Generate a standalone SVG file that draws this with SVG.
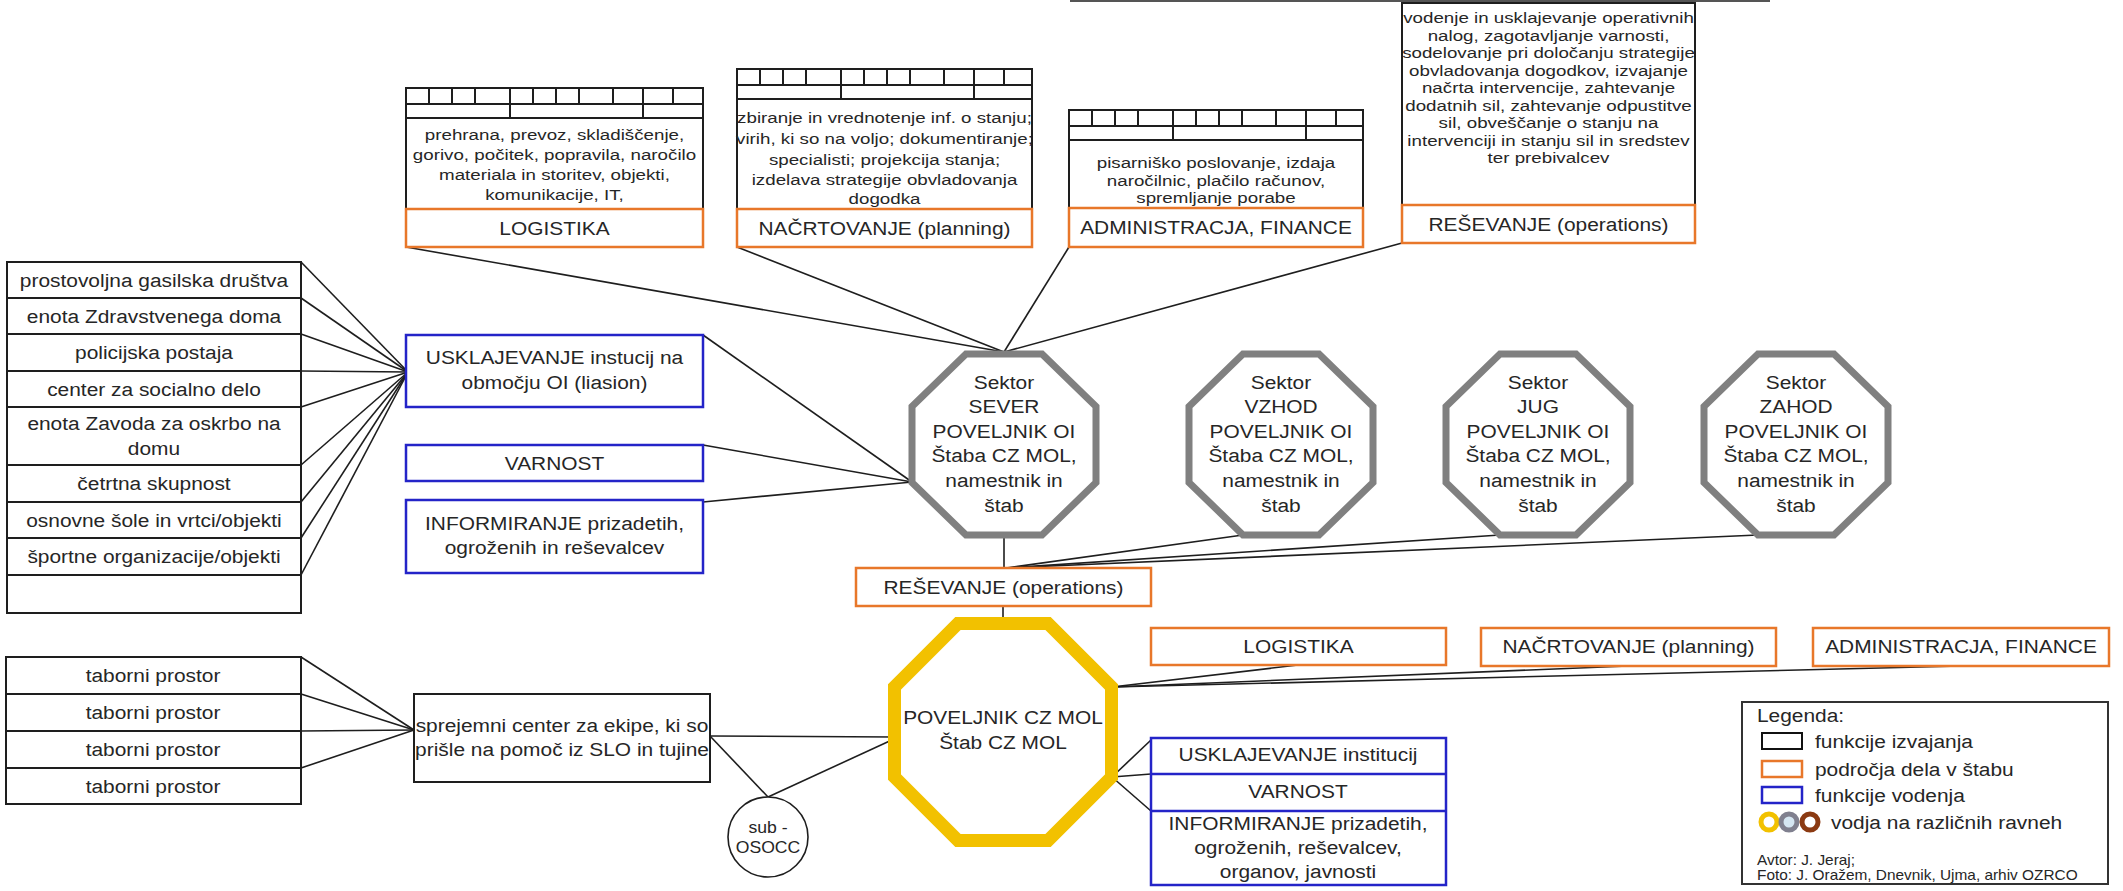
<svg xmlns="http://www.w3.org/2000/svg" width="2123" height="891" viewBox="0 0 2123 891">
<defs>
<style>
text{font-family:"Liberation Sans",Arial,sans-serif;fill:#262626;}
.t{font-size:19px;text-anchor:middle;}
.d{font-size:15px;text-anchor:middle;}
.s{font-size:19px;text-anchor:start;}
.f{font-size:14px;text-anchor:start;}
.bk{fill:#fff;stroke:#1e1e1e;stroke-width:2;}
.or{fill:#fff;stroke:#E8772A;stroke-width:2.5;}
.bl{fill:#fff;stroke:#2424C8;stroke-width:2.5;}
.rl{fill:none;stroke:#1e1e1e;stroke-width:2;}
.sep{stroke:#1e1e1e;stroke-width:2;}
.sepb{stroke:#2424C8;stroke-width:2.5;}
.oct{fill:#fff;stroke:#808080;stroke-width:7;stroke-linejoin:miter;}
.cn line{stroke:#1e1e1e;stroke-width:1.6;}
</style>
<path id="ruler" class="rl" d="M23 0V16M46 0V16M69 0V16M104 0V30M127 0V16M150 0V16M173 0V16M207 0V16M237 0V30M267 0V16"/>
<path id="sector" class="oct" d="M-38 354H38L92 406.5V482.5L38 535H-38L-92 482.5V406.5Z"/>
</defs>
<rect width="2123" height="891" fill="#fff"/>

<g id="clipped-top"><line x1="1070" y1="1" x2="1770" y2="1" stroke="#555" stroke-width="2"/></g>

<g id="connectors" class="cn">
<line x1="301" y1="262" x2="408" y2="372"/>
<line x1="301" y1="298" x2="408" y2="372"/>
<line x1="301" y1="334" x2="408" y2="372"/>
<line x1="301" y1="371" x2="408" y2="372"/>
<line x1="301" y1="407" x2="408" y2="372"/>
<line x1="301" y1="465" x2="408" y2="372"/>
<line x1="301" y1="502" x2="408" y2="372"/>
<line x1="301" y1="538" x2="408" y2="372"/>
<line x1="301" y1="575" x2="408" y2="372"/>
<line x1="703" y1="335" x2="912" y2="482"/>
<line x1="703" y1="445" x2="912" y2="482"/>
<line x1="703" y1="502" x2="912" y2="482"/>
<line x1="406" y1="247" x2="1004" y2="352"/>
<line x1="737" y1="247" x2="1004" y2="352"/>
<line x1="1069" y1="247" x2="1004" y2="352"/>
<line x1="1402" y1="243" x2="1004" y2="352"/>
<line x1="1004" y1="535" x2="1004" y2="568"/>
<line x1="1243" y1="535" x2="1006" y2="568"/>
<line x1="1500" y1="535" x2="1006" y2="568"/>
<line x1="1758" y1="535" x2="1006" y2="568"/>
<line x1="1003" y1="606" x2="1003" y2="620"/>
<line x1="301" y1="657" x2="414" y2="730"/>
<line x1="301" y1="694" x2="414" y2="730"/>
<line x1="301" y1="731" x2="414" y2="730"/>
<line x1="301" y1="768" x2="414" y2="730"/>
<line x1="710" y1="736" x2="894" y2="737"/>
<line x1="710" y1="736" x2="768" y2="797"/>
<line x1="768" y1="797" x2="894" y2="739"/>
<line x1="1298" y1="665" x2="1112" y2="687"/>
<line x1="1628" y1="666" x2="1112" y2="687"/>
<line x1="1961" y1="666" x2="1112" y2="687"/>
<line x1="1112" y1="777" x2="1151" y2="740"/>
<line x1="1112" y1="777" x2="1151" y2="774"/>
<line x1="1112" y1="777" x2="1151" y2="811"/>
</g>

<g id="logistika-top">
<rect class="bk" x="406" y="88" width="297" height="121"/>
<use href="#ruler" transform="translate(406 88)"/>
<path class="rl" d="M406 104H703M406 118H703"/>
<text class="d" transform="translate(554.5 0) scale(1.25 1)"><tspan x="0" y="140">prehrana, prevoz, skladiščenje,</tspan><tspan x="0" y="160">gorivo, počitek, popravila, naročilo</tspan><tspan x="0" y="180">materiala in storitev, objekti,</tspan><tspan x="0" y="200">komunikacije, IT,</tspan></text>
<rect class="or" x="406" y="209" width="297" height="38"/>
<text class="t" transform="translate(554.5 234.7) scale(1.1 1)">LOGISTIKA</text>
</g>

<g id="nacrtovanje-top">
<rect class="bk" x="737" y="69" width="295" height="140"/>
<use href="#ruler" transform="translate(737 69)"/>
<path class="rl" d="M737 85H1032M737 99H1032"/>
<text class="d" transform="translate(884.5 0) scale(1.25 1)"><tspan x="0" y="123">zbiranje in vrednotenje inf. o stanju;</tspan><tspan x="0" y="144">virih, ki so na voljo; dokumentiranje;</tspan><tspan x="0" y="165">specialisti; projekcija stanja;</tspan><tspan x="0" y="185">izdelava strategije obvladovanja</tspan><tspan x="0" y="204">dogodka</tspan></text>
<rect class="or" x="737" y="209" width="295" height="38"/>
<text class="t" transform="translate(884.5 234.7) scale(1.1 1)">NAČRTOVANJE (planning)</text>
</g>

<g id="administracija-top">
<rect class="bk" x="1069" y="110" width="294" height="98"/>
<use href="#ruler" transform="translate(1069 110)"/>
<path class="rl" d="M1069 126H1363M1069 140H1363"/>
<text class="d" transform="translate(1216 0) scale(1.25 1)"><tspan x="0" y="168">pisarniško poslovanje, izdaja</tspan><tspan x="0" y="186">naročilnic, plačilo računov,</tspan><tspan x="0" y="203">spremljanje porabe</tspan></text>
<rect class="or" x="1069" y="208" width="294" height="39"/>
<text class="t" transform="translate(1216 234.2) scale(1.1 1)">ADMINISTRACJA, FINANCE</text>
</g>

<g id="resevanje-top">
<rect class="bk" x="1402" y="3" width="293" height="202"/>
<text class="d" transform="translate(1548.5 0) scale(1.25 1)"><tspan x="0" y="23">vodenje in usklajevanje operativnih</tspan><tspan x="0" y="41">nalog, zagotavljanje varnosti,</tspan><tspan x="0" y="58">sodelovanje pri določanju strategije</tspan><tspan x="0" y="76">obvladovanja dogodkov, izvajanje</tspan><tspan x="0" y="93">načrta intervencije, zahtevanje</tspan><tspan x="0" y="111">dodatnih sil, zahtevanje odpustitve</tspan><tspan x="0" y="128">sil, obveščanje o stanju na</tspan><tspan x="0" y="146">intervenciji in stanju sil in sredstev</tspan><tspan x="0" y="163">ter prebivalcev</tspan></text>
<rect class="or" x="1402" y="205" width="293" height="38"/>
<text class="t" transform="translate(1548.5 230.7) scale(1.1 1)">REŠEVANJE (operations)</text>
</g>

<g id="institutions-list">
<rect class="bk" x="7" y="262" width="294" height="351"/>
<line class="sep" x1="7" y1="298" x2="301" y2="298"/>
<line class="sep" x1="7" y1="334" x2="301" y2="334"/>
<line class="sep" x1="7" y1="371" x2="301" y2="371"/>
<line class="sep" x1="7" y1="407" x2="301" y2="407"/>
<line class="sep" x1="7" y1="465" x2="301" y2="465"/>
<line class="sep" x1="7" y1="502" x2="301" y2="502"/>
<line class="sep" x1="7" y1="538" x2="301" y2="538"/>
<line class="sep" x1="7" y1="575" x2="301" y2="575"/>
<text class="t" transform="translate(154 286.7) scale(1.1 1)">prostovoljna gasilska društva</text>
<text class="t" transform="translate(154 322.7) scale(1.1 1)">enota Zdravstvenega doma</text>
<text class="t" transform="translate(154 359.2) scale(1.1 1)">policijska postaja</text>
<text class="t" transform="translate(154 395.7) scale(1.1 1)">center za socialno delo</text>
<text class="t" transform="translate(154 0) scale(1.1 1)"><tspan x="0" y="429.7">enota Zavoda za oskrbo na</tspan><tspan x="0" y="454.7">domu</tspan></text>
<text class="t" transform="translate(154 490.2) scale(1.1 1)">četrtna skupnost</text>
<text class="t" transform="translate(154 526.7) scale(1.1 1)">osnovne šole in vrtci/objekti</text>
<text class="t" transform="translate(154 563.2) scale(1.1 1)">športne organizacije/objekti</text>
</g>

<g id="usklajevanje-oi">
<rect class="bl" x="406" y="335" width="297" height="72"/>
<text class="t" transform="translate(554.5 0) scale(1.1 1)"><tspan x="0" y="363.7">USKLAJEVANJE instucij na</tspan><tspan x="0" y="388.7">območju OI (liasion)</tspan></text>
</g>
<g id="varnost-oi">
<rect class="bl" x="406" y="445" width="297" height="36"/>
<text class="t" transform="translate(554.5 469.7) scale(1.1 1)">VARNOST</text>
</g>
<g id="informiranje-oi">
<rect class="bl" x="406" y="500" width="297" height="73"/>
<text class="t" transform="translate(554.5 0) scale(1.1 1)"><tspan x="0" y="529.7">INFORMIRANJE prizadetih,</tspan><tspan x="0" y="553.7">ogroženih in reševalcev</tspan></text>
</g>

<g id="sektor-sever">
<use href="#sector" transform="translate(1004 0)"/>
<text class="t" transform="translate(1004 0) scale(1.1 1)"><tspan x="0" y="388.7">Sektor</tspan><tspan x="0" y="413.3">SEVER</tspan><tspan x="0" y="437.9">POVELJNIK OI</tspan><tspan x="0" y="462.5">Štaba CZ MOL,</tspan><tspan x="0" y="487.1">namestnik in</tspan><tspan x="0" y="511.7">štab</tspan></text>
</g>
<g id="sektor-vzhod">
<use href="#sector" transform="translate(1281 0)"/>
<text class="t" transform="translate(1281 0) scale(1.1 1)"><tspan x="0" y="388.7">Sektor</tspan><tspan x="0" y="413.3">VZHOD</tspan><tspan x="0" y="437.9">POVELJNIK OI</tspan><tspan x="0" y="462.5">Štaba CZ MOL,</tspan><tspan x="0" y="487.1">namestnik in</tspan><tspan x="0" y="511.7">štab</tspan></text>
</g>
<g id="sektor-jug">
<use href="#sector" transform="translate(1538 0)"/>
<text class="t" transform="translate(1538 0) scale(1.1 1)"><tspan x="0" y="388.7">Sektor</tspan><tspan x="0" y="413.3">JUG</tspan><tspan x="0" y="437.9">POVELJNIK OI</tspan><tspan x="0" y="462.5">Štaba CZ MOL,</tspan><tspan x="0" y="487.1">namestnik in</tspan><tspan x="0" y="511.7">štab</tspan></text>
</g>
<g id="sektor-zahod">
<use href="#sector" transform="translate(1796 0)"/>
<text class="t" transform="translate(1796 0) scale(1.1 1)"><tspan x="0" y="388.7">Sektor</tspan><tspan x="0" y="413.3">ZAHOD</tspan><tspan x="0" y="437.9">POVELJNIK OI</tspan><tspan x="0" y="462.5">Štaba CZ MOL,</tspan><tspan x="0" y="487.1">namestnik in</tspan><tspan x="0" y="511.7">štab</tspan></text>
</g>

<g id="resevanje-mid">
<rect class="or" x="856" y="568" width="295" height="38"/>
<text class="t" transform="translate(1003.5 593.7) scale(1.1 1)">REŠEVANJE (operations)</text>
</g>

<g id="poveljnik-cz-mol">
<path d="M958 623.5H1048L1111.5 687V777L1048 840.5H958L894.5 777V687Z" fill="#fff" stroke="#F2C100" stroke-width="13"/>
<text class="t" transform="translate(1003 0) scale(1.1 1)"><tspan x="0" y="723.7">POVELJNIK CZ MOL</tspan><tspan x="0" y="748.7">Štab CZ MOL</tspan></text>
</g>

<g id="taborni-list">
<rect class="bk" x="6" y="657" width="295" height="147"/>
<line class="sep" x1="6" y1="694" x2="301" y2="694"/>
<line class="sep" x1="6" y1="731" x2="301" y2="731"/>
<line class="sep" x1="6" y1="768" x2="301" y2="768"/>
<text class="t" transform="translate(153 682) scale(1.1 1)">taborni prostor</text>
<text class="t" transform="translate(153 719) scale(1.1 1)">taborni prostor</text>
<text class="t" transform="translate(153 756) scale(1.1 1)">taborni prostor</text>
<text class="t" transform="translate(153 792.5) scale(1.1 1)">taborni prostor</text>
</g>

<g id="sprejemni-center">
<rect class="bk" x="414" y="694" width="296" height="88"/>
<text class="t" transform="translate(562 0) scale(1.1 1)"><tspan x="0" y="731.7">sprejemni center za ekipe, ki so</tspan><tspan x="0" y="755.7">prišle na pomoč iz SLO in tujine</tspan></text>
</g>

<g id="sub-osocc">
<circle cx="768" cy="837" r="40" fill="#fff" stroke="#1e1e1e" stroke-width="1.6"/>
<text class="t" style="font-size:16px" transform="translate(768 0) scale(1.1 1)"><tspan x="0" y="832.6">sub -</tspan><tspan x="0" y="852.6">OSOCC</tspan></text>
</g>

<g id="logistika-bottom">
<rect class="or" x="1151" y="628" width="295" height="37"/>
<text class="t" transform="translate(1298.5 652.7) scale(1.1 1)">LOGISTIKA</text>
</g>
<g id="nacrtovanje-bottom">
<rect class="or" x="1481" y="628" width="295" height="38"/>
<text class="t" transform="translate(1628.5 652.7) scale(1.1 1)">NAČRTOVANJE (planning)</text>
</g>
<g id="administracija-bottom">
<rect class="or" x="1813" y="628" width="296" height="38"/>
<text class="t" transform="translate(1961 652.7) scale(1.1 1)">ADMINISTRACJA, FINANCE</text>
</g>

<g id="vodenje-bottom">
<rect class="bl" x="1151" y="738" width="295" height="147"/>
<line class="sepb" x1="1151" y1="774" x2="1446" y2="774"/>
<line class="sepb" x1="1151" y1="811" x2="1446" y2="811"/>
<text class="t" transform="translate(1298 760.7) scale(1.1 1)">USKLAJEVANJE institucij</text>
<text class="t" transform="translate(1298 797.7) scale(1.1 1)">VARNOST</text>
<text class="t" transform="translate(1298 0) scale(1.1 1)"><tspan x="0" y="829.7">INFORMIRANJE prizadetih,</tspan><tspan x="0" y="853.7">ogroženih, reševalcev,</tspan><tspan x="0" y="877.7">organov, javnosti</tspan></text>
</g>

<g id="legend">
<rect x="1742" y="702" width="366" height="182" fill="#fff" stroke="#333" stroke-width="2"/>
<text class="s" transform="translate(1757 721.7) scale(1.1 1)">Legenda:</text>
<rect x="1762" y="733" width="40" height="16" fill="#fff" stroke="#111" stroke-width="2"/>
<rect x="1762" y="761" width="40" height="16" fill="#fff" stroke="#E8772A" stroke-width="2.5"/>
<rect x="1762" y="787" width="40" height="16" fill="#fff" stroke="#2424C8" stroke-width="2.5"/>
<circle cx="1769" cy="822" r="8" fill="#fff" stroke="#F2C100" stroke-width="5"/>
<circle cx="1789" cy="822" r="8" fill="#d5e6f2" stroke="#80808f" stroke-width="5"/>
<circle cx="1810" cy="822" r="8" fill="#fff" stroke="#8B3A12" stroke-width="5"/>
<text class="s" transform="translate(1815 747.7) scale(1.1 1)">funkcije izvajanja</text>
<text class="s" transform="translate(1815 775.7) scale(1.1 1)">področja dela v štabu</text>
<text class="s" transform="translate(1815 801.7) scale(1.1 1)">funkcije vodenja</text>
<text class="s" transform="translate(1831 828.7) scale(1.1 1)">vodja na različnih ravneh</text>
<text class="f" transform="translate(1757 865) scale(1.1 1)">Avtor: J. Jeraj;</text>
<text class="f" transform="translate(1757 880) scale(1.1 1)">Foto: J. Oražem, Dnevnik, Ujma, arhiv OZRCO</text>
</g>
</svg>
